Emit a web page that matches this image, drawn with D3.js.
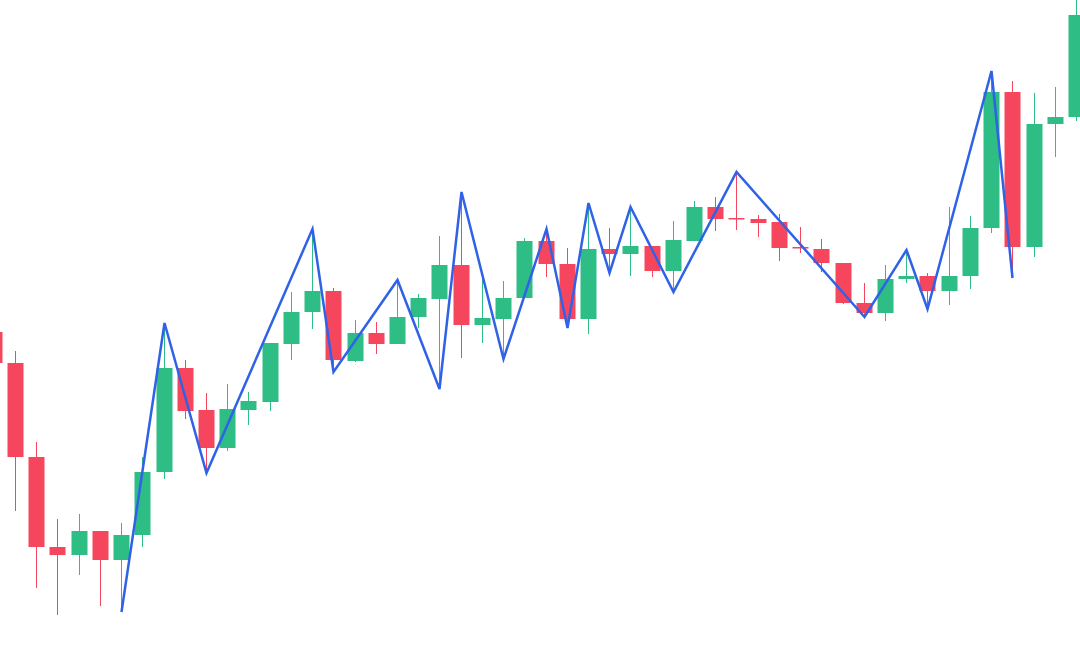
<!DOCTYPE html>
<html>
<head>
<meta charset="utf-8">
<script src="https://cdn.jsdelivr.net/npm/d3@7"></script>
<style>
  html, body { margin: 0; padding: 0; background: #fff; }
  svg { display: block; }
</style>
</head>
<body>
<div id="chart"></div>
<script>
// candle data, one entry per bar (price units)
var opens  = [368, 337, 243, 153, 145, 169, 140, 165, 228, 332, 290, 252, 290, 298, 356, 388, 409, 339, 367, 356,
              383, 401, 435, 375, 381, 402, 459, 436, 381, 451, 446, 454, 429, 459, 493, 482, 481, 478, 453, 451,
              437, 397, 387, 421, 424, 409, 424, 472, 608, 453, 576, 583];
var closes = [337, 243, 153, 145, 169, 140, 165, 228, 332, 289, 252, 291, 299, 357, 388, 409, 340, 367, 356, 383,
              402, 435, 375, 382, 402, 459, 436, 381, 451, 446, 454, 429, 460, 493, 481, 481, 477, 452, 452, 437,
              397, 387, 421, 424, 409, 424, 472, 608, 453, 576, 583, 685];
var highs  = [375, 349, 258, 181, 186, 169, 177, 243, 377, 340, 307, 316, 308, 357, 408, 471, 412, 380, 378, 420,
              406, 464, 508, 423, 419, 462, 471, 452, 497, 472, 493, 454, 479, 499, 503, 528, 485, 486, 473, 461,
              437, 417, 435, 450, 427, 493, 484, 629, 619, 607, 613, 720];
var lows   = [330, 189, 112,  85, 125,  94,  88, 153, 221, 281, 227, 249, 275, 289, 340, 371, 328, 338, 346, 356,
              372, 311, 342, 357, 341, 402, 423, 372, 366, 427, 424, 423, 408, 459, 469, 470, 463, 439, 447, 428,
              396, 383, 379, 417, 391, 395, 411, 467, 422, 443, 543, 579];

// zigzag pivots: bar index and whether it sits on the high or the low
var zzIndex = [6, 8, 10, 15, 16, 19, 21, 22, 24, 26, 27, 28, 29, 30, 32, 35, 41, 43, 44, 47, 48];
var zzType  = ["L", "H", "L", "H", "L", "H", "L", "H", "L", "H", "L", "H", "L", "H", "L", "H", "L", "H", "L", "H", "L"];

var width = 1080,
    height = 669;

var up = "#2ebd85",
    down = "#f6465d",
    lineColor = "#2f62e6";

var svg = d3.select("#chart")
    .append("svg")
    .attr("width", width)
    .attr("height", height);

var x = d3.scaleLinear()
    .domain([1, opens.length - 1])
    .range([15, 1076]);

var y = d3.scaleLinear()
    .domain([31, 700])
    .range([height, 0]);

var bodyW = 16;

var candles = opens.map(function(o, i) {
    return { i: i, o: o, c: closes[i], h: highs[i], l: lows[i] };
});

var g = svg.append("g");

/* wicks */
g.selectAll("line.wick")
    .data(candles)
    .enter().append("line")
    .attr("class", "wick")
    .attr("x1", function(d) { return Math.round(x(d.i)) + 0.5; })
    .attr("x2", function(d) { return Math.round(x(d.i)) + 0.5; })
    .attr("y1", function(d) { return y(d.h); })
    .attr("y2", function(d) { return y(d.l); })
    .attr("stroke", function(d) { return d.c >= d.o ? up : down; })
    .attr("stroke-width", 1);

/* bodies */
g.selectAll("rect.body")
    .data(candles)
    .enter().append("rect")
    .attr("class", "body")
    .attr("x", function(d) { return Math.round(x(d.i)) + 0.5 - bodyW / 2; })
    .attr("width", bodyW)
    .attr("y", function(d) { return y(Math.max(d.o, d.c)); })
    .attr("height", function(d) { return Math.max(1.5, Math.abs(y(d.o) - y(d.c))); })
    .attr("fill", function(d) { return d.c >= d.o ? up : down; });

/* zigzag */
var zz = zzIndex.map(function(idx, k) {
    return { i: idx, p: zzType[k] == "H" ? highs[idx] : lows[idx] };
});

var line = d3.line()
    .x(function(d) { return Math.round(x(d.i)) + 0.5; })
    .y(function(d) { return y(d.p); });

svg.append("path")
    .datum(zz)
    .attr("d", line)
    .attr("fill", "none")
    .attr("stroke", lineColor)
    .attr("stroke-width", 2.5)
    .attr("stroke-linejoin", "miter");
</script>
</body>
</html>
